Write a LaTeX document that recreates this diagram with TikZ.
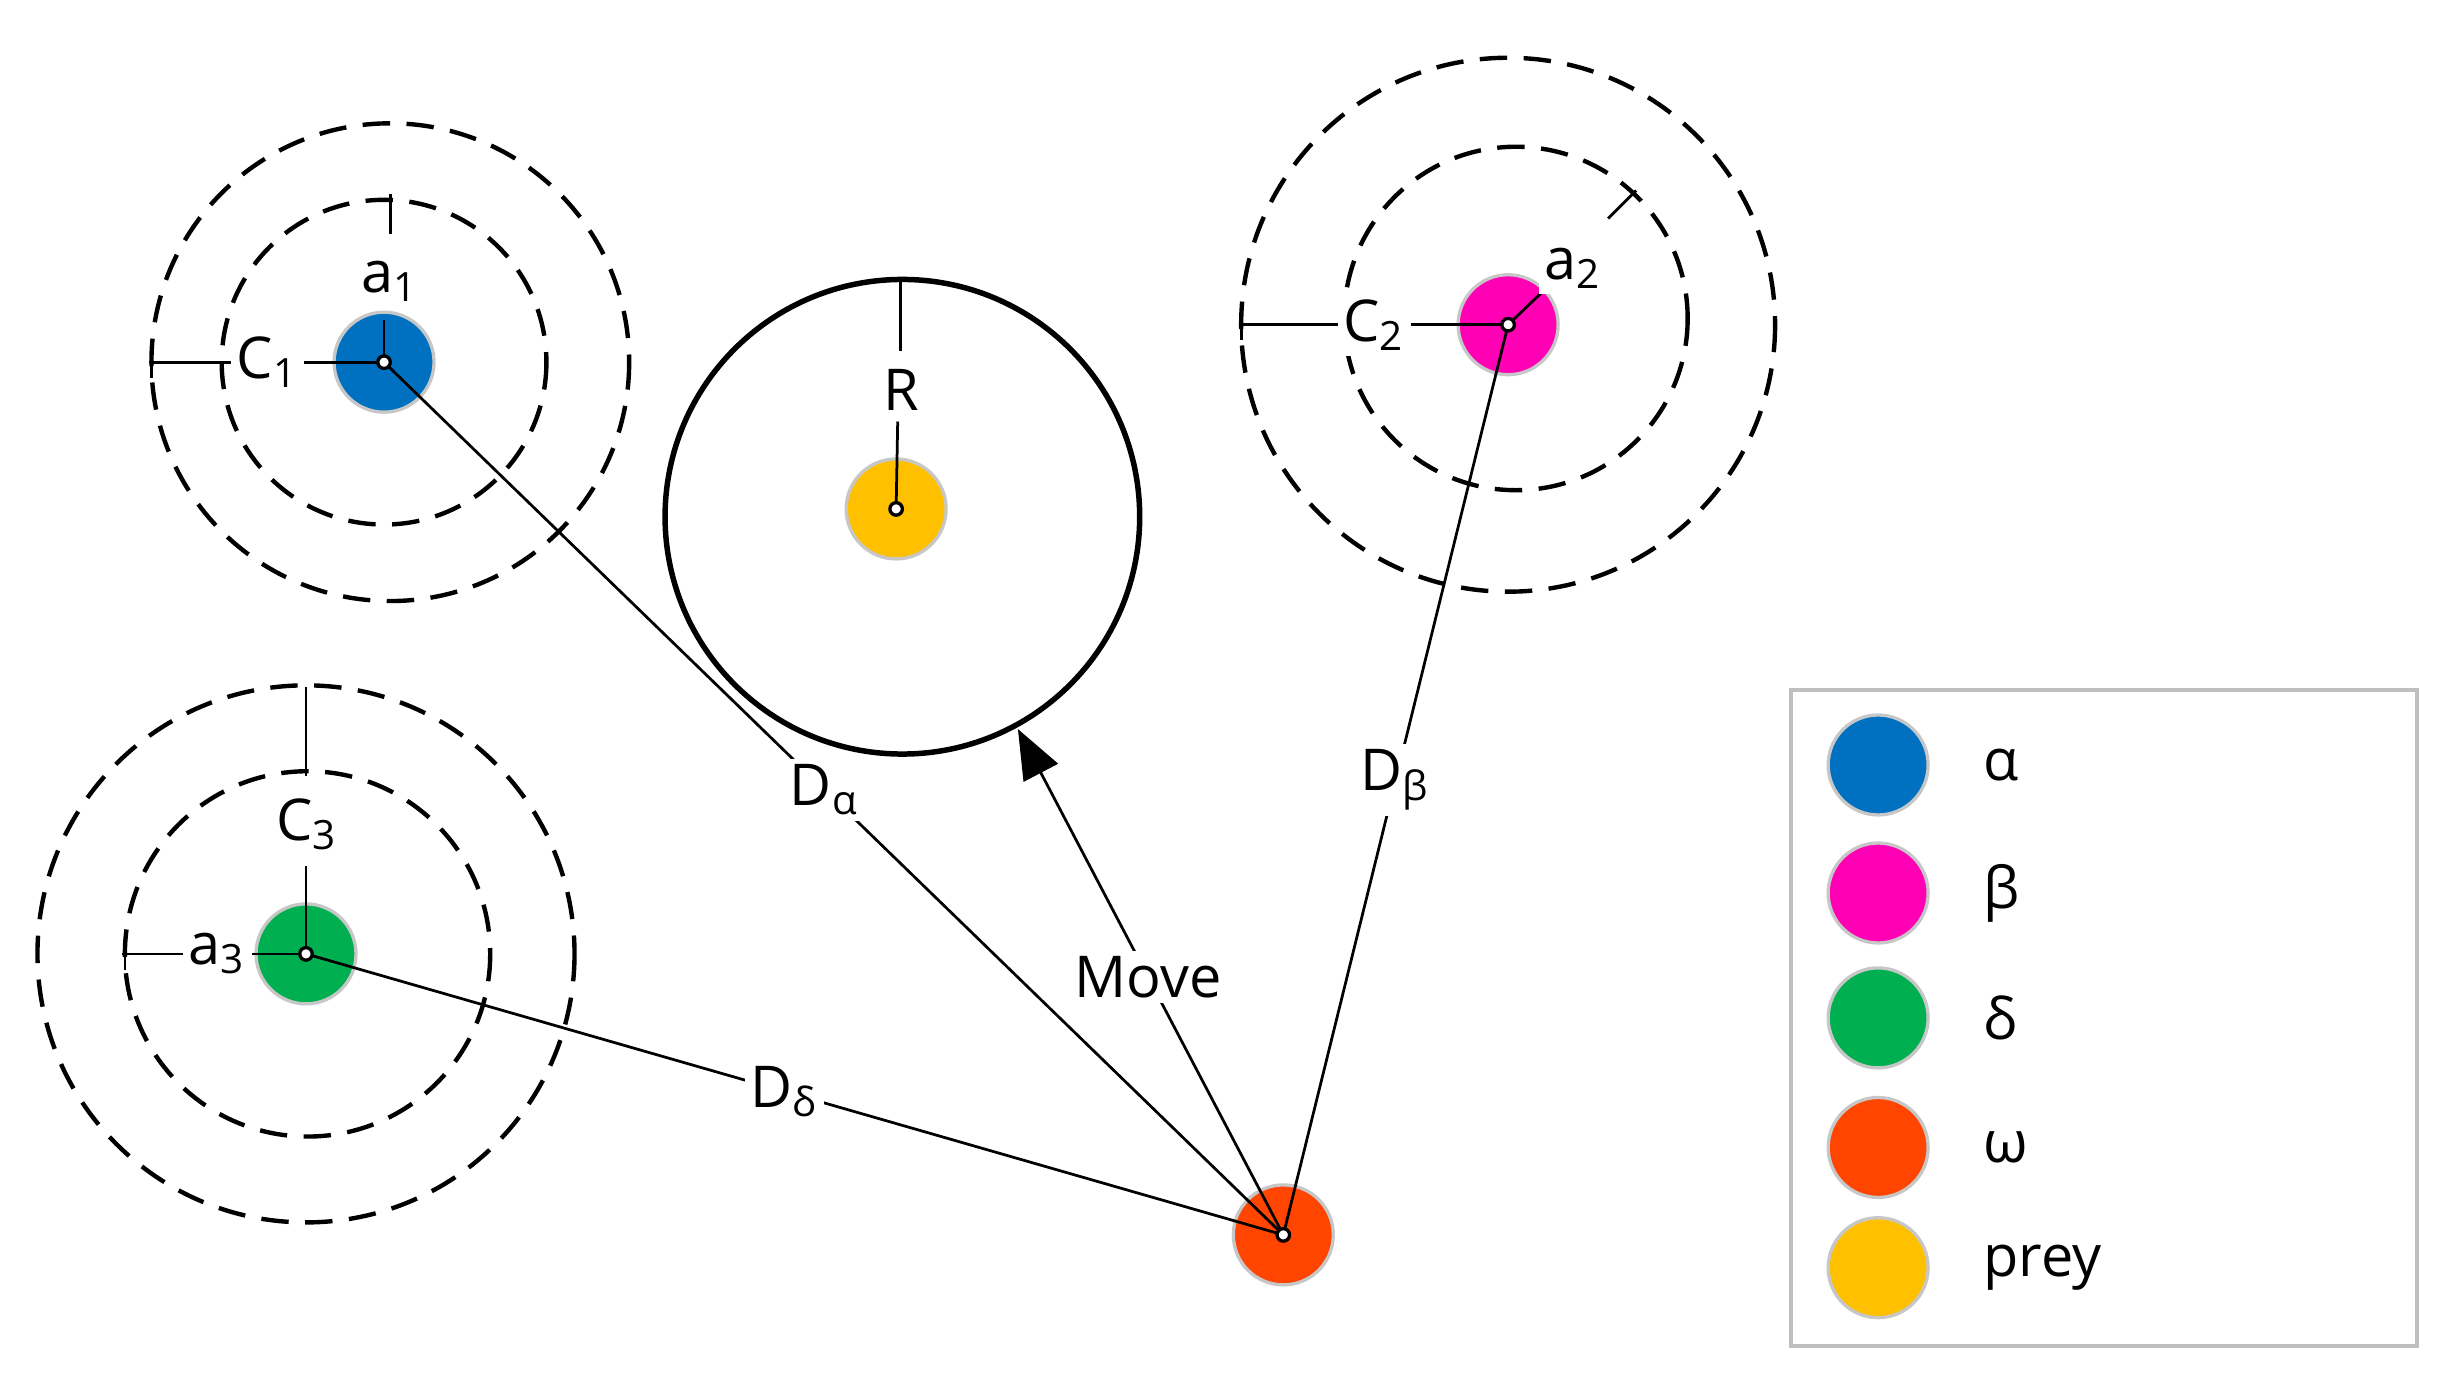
\documentclass[tikz,border=0pt]{standalone}
\usepackage{fontspec}
\setmainfont{Open Sans}
\usetikzlibrary{arrows.meta}
\definecolor{calpha}{HTML}{0070C0}
\definecolor{cbeta}{HTML}{FF00B4}
\definecolor{cdelta}{HTML}{00B050}
\definecolor{comega}{HTML}{FF4500}
\definecolor{cprey}{HTML}{FFC000}
\begin{document}
\begin{tikzpicture}[x=0.01cm,y=-0.01cm,
  agent/.style={circle,minimum size=0.64cm,inner sep=0pt,draw=black!22,line width=0.6pt},
  dot/.style={circle,draw=black,fill=white,minimum size=0.08cm,inner sep=0pt,line width=0.6pt},
  ring/.style={dashed,line width=0.8pt,dash pattern=on 5pt off 3pt},
  lab/.style={fill=white,inner sep=1pt,font=\fontsize{10.5}{12}\selectfont},
  ln/.style={line width=0.5pt}]
\useasboundingbox (0,0) rectangle (1568,883);
% rings
\draw[ring] (246,232) circle (104);
\draw[ring] (250,232) circle (153);
\draw[ring] (971,204) circle (110);
\draw[ring] (966,208) circle (171);
\draw[ring] (197,611) circle (117);
\draw[ring] (196,611) circle (172);
\draw[line width=1pt] (578,331) circle (152);
% agents
\node[agent,fill=calpha] (A) at (246,232) {};
\node[agent,fill=cbeta] (B) at (966,208) {};
\node[agent,fill=cdelta] (Dl) at (196,611) {};
\node[agent,fill=comega] (W) at (822,791) {};
\node[agent,fill=cprey] (P) at (574,326) {};
% coordinates
\coordinate (c1) at (97,232); \coordinate (c1a) at (97,222); \coordinate (c1b) at (97,242);
\coordinate (a1t) at (250,124); \coordinate (a1b) at (250,150);
\coordinate (c2) at (795,208); \coordinate (c2a) at (795,198); \coordinate (c2b) at (795,218);
\coordinate (a2a) at (1030,140); \coordinate (a2b) at (1048,122);
\coordinate (c3t) at (196,440); \coordinate (c3a) at (186,497); \coordinate (c3b) at (206,497);
\coordinate (a3) at (78,611); \coordinate (a3a) at (80,601); \coordinate (a3b) at (80,621);
\coordinate (rt) at (577,178);
\coordinate (mv) at (652,467);
% alpha
\draw[ln] (c1a) -- (c1b);
\draw[ln] (c1) -- node[lab,pos=0.5]{C\textsubscript{1}} (A.center);
\draw[ln] (a1t) -- (a1b);
\draw[ln] (A.center) -- (246,205);
\node[lab] (la1) at (250,180) {a\textsubscript{1}};
% beta
\draw[ln] (c2a) -- (c2b);
\draw[ln] (c2) -- node[lab,pos=0.5]{C\textsubscript{2}} (B.center);
\draw[ln] (a2a) -- (a2b);
\draw[ln] (B.center) -- (990,185);
\node[lab] (la2) at (1008,172) {a\textsubscript{2}};
% delta
\draw[ln] (c3t) -- (196,497);
\draw[ln] (196,555) -- (Dl.center);
\node[lab] (lc3) at (197,528) {C\textsubscript{3}};
\draw[ln] (a3a) -- (a3b);
\draw[ln] (a3) -- node[lab,pos=0.52]{a\textsubscript{3}} (Dl.center);
% prey
\draw[ln] (rt) -- (577,225);
\node[lab] (lr) at (577,250) {R};
\draw[ln] (575,270) -- (P.center);
% distances
\draw[ln] (W.center) -- node[lab,pos=0.51]{D\textsubscript{α}} (A.center);
\draw[ln] (W.center) -- node[lab,pos=0.5]{D\textsubscript{β}} (B.center);
\draw[ln] (W.center) -- node[lab,pos=0.51]{D\textsubscript{δ}} (Dl.center);
\draw[ln,-{Triangle[length=9pt,width=7pt]}] (W.center) -- node[lab,pos=0.51]{Move} (mv);
% center dots
\foreach \n in {A,B,Dl,W,P} \node[dot] at (\n.center) {};
% legend
\draw[black!25,line width=0.7pt] (1147,442) rectangle (1548,862);
\foreach \c/\t/\y in {calpha/α/490,cbeta/β/572,cdelta/δ/652,comega/ω/735,cprey/prey/812}{
  \node[agent,fill=\c] at (1203,\y) {};
  \node[anchor=west,font=\fontsize{10.5}{12}\selectfont] at (1258,\y) {\t};
}
\end{tikzpicture}
\end{document}
